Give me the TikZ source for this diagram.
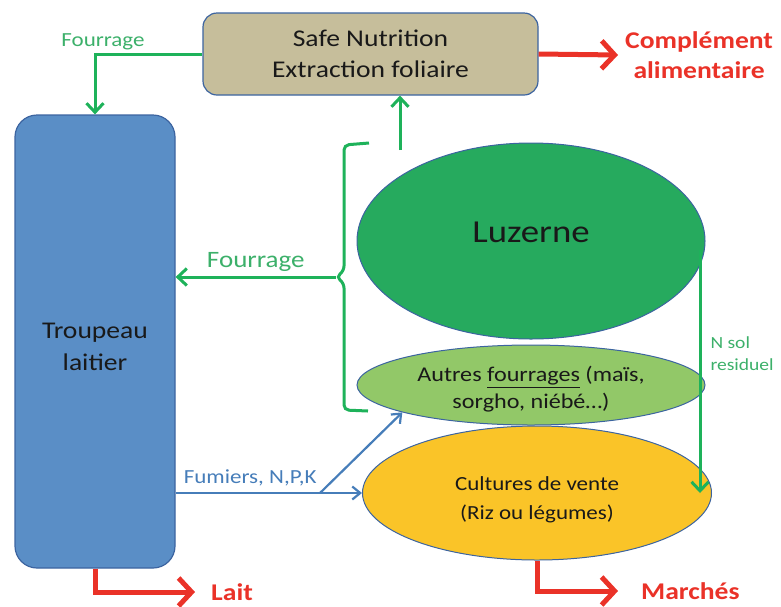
\documentclass[tikz,border=0pt]{standalone}
\usepackage{fontspec}
\setmainfont{Carlito}[FakeStretch=1.15]
\usetikzlibrary{shapes.geometric,arrows.meta}

\definecolor{tanbox}{RGB}{198,190,155}
\definecolor{herdblue}{RGB}{90,142,198}
\definecolor{edgeblue}{RGB}{60,100,160}
\definecolor{luzgreen}{RGB}{38,170,94}
\definecolor{fodgreen}{RGB}{146,200,104}
\definecolor{cropyellow}{RGB}{250,196,40}
\definecolor{flowgreen}{RGB}{30,178,90}
\definecolor{labgreen}{RGB}{60,176,106}
\definecolor{flowred}{RGB}{234,50,40}
\definecolor{flowblue}{RGB}{70,125,185}
\definecolor{inkdark}{RGB}{25,25,25}
\newcommand{\setsize}[2]{\fontsize{#1}{#2}\selectfont}

\begin{document}
\begin{tikzpicture}[x=1pt,y=-1pt,
	box/.style={draw=edgeblue,line width=1.2pt,text=inkdark,align=center},
	crop/.style={ellipse,draw=edgeblue,line width=1pt,inner sep=0pt,text=inkdark,align=center},
	gflow/.style={draw=flowgreen,line width=3pt,-{Straight Barb[length=9pt,width=17pt]}},
	rflow/.style={draw=flowred,line width=5pt,-{Straight Barb[length=13pt,width=28pt]}},
	bflow/.style={draw=flowblue,line width=2.2pt,-{Straight Barb[length=8pt,width=13pt]}},
	outlab/.style={text=flowred,font=\bfseries\setsize{24}{30},align=center,inner ysep=4pt}]
		\useasboundingbox (0,0) rectangle (781,606);
		% boxes and crops
		\node[box,fill=tanbox,minimum width=335pt,minimum height=82pt,rounded corners=14pt,font=\setsize{24}{31}] (safe) at (370.5,54){Safe Nutrition\\Extraction foliaire};
		\node[box,fill=herdblue,minimum width=160pt,minimum height=453pt,rounded corners=22pt,font=\setsize{24}{32}] (herd) at (95,341.5){\rule{0pt}{27pt}Troupeau\\laitier};
		\node[crop,fill=luzgreen,minimum width=348pt,minimum height=196pt,font=\setsize{32}{36}] (luz) at (531,241){Luzerne\rule[-18pt]{0pt}{1pt}};
		\node[crop,fill=fodgreen,minimum width=348pt,minimum height=80pt,font=\setsize{21}{27}] (autres) at (531,385){\rule{0pt}{24pt}Autres \underline{fourrages} (maïs,\\sorgho, niébé…)};
		\node[crop,fill=cropyellow,minimum width=349pt,minimum height=134pt,font=\setsize{20}{29}] (cult) at (537,493){\rule{0pt}{28pt}Cultures de vente\\(Riz ou légumes)};
		% outputs
		\node[outlab,anchor=west,inner xsep=7pt] (compl) at (618,55){Complément\\alimentaire};
		\node[outlab,anchor=west,inner xsep=16pt] (lait) at (195,592){Lait};
		\node[outlab,anchor=west,inner xsep=23pt] (march) at (618,591){Marchés};
		\draw[rflow] (safe.east) -- (compl.west);
		\draw[rflow] (herd.south) |- (lait.west);
		\draw[rflow] (cult.south) |- (march.west);
		% forage flows
		\draw[gflow] (safe.west) -| (herd.north);
		\node[text=labgreen,font=\setsize{20}{22}] (fourtop) at (103,42) {Fourrage};
		\coordinate (lzup) at (400,150);
		\draw[gflow] (lzup) -- (lzup |- safe.south);
		\coordinate (brk) at (336,277);
		\draw[draw=flowgreen,line width=3pt,rounded corners=5pt] (369,143) -- (344,145) -- (344,271) -- (brk) -- (344,283) -- (344,410) -- (368,411);
		\draw[gflow] (brk) -- (brk -| herd.east) node[pos=0.5,above=1pt,text=labgreen,font=\setsize{23.5}{26}] (fourmid) {Fourrage};
		\coordinate (nres) at (700,250);
		\draw[gflow] (nres) -- (nres |- cult.center);
		\node[anchor=west,text=labgreen,align=left,font=\setsize{17}{22}] (nsol) at (707,354){N sol\\residuel};
		% manure
		\draw[bflow] (herd.east |- cult.west) -- (cult.west) node[pos=0.4,above=3pt,text=flowblue,font=\setsize{20}{22}] (fumier) {Fumiers, N,P,K};
		\coordinate (fork) at (320,493);
		\draw[bflow] (fork) -- (autres.192);
\end{tikzpicture}
\end{document}
